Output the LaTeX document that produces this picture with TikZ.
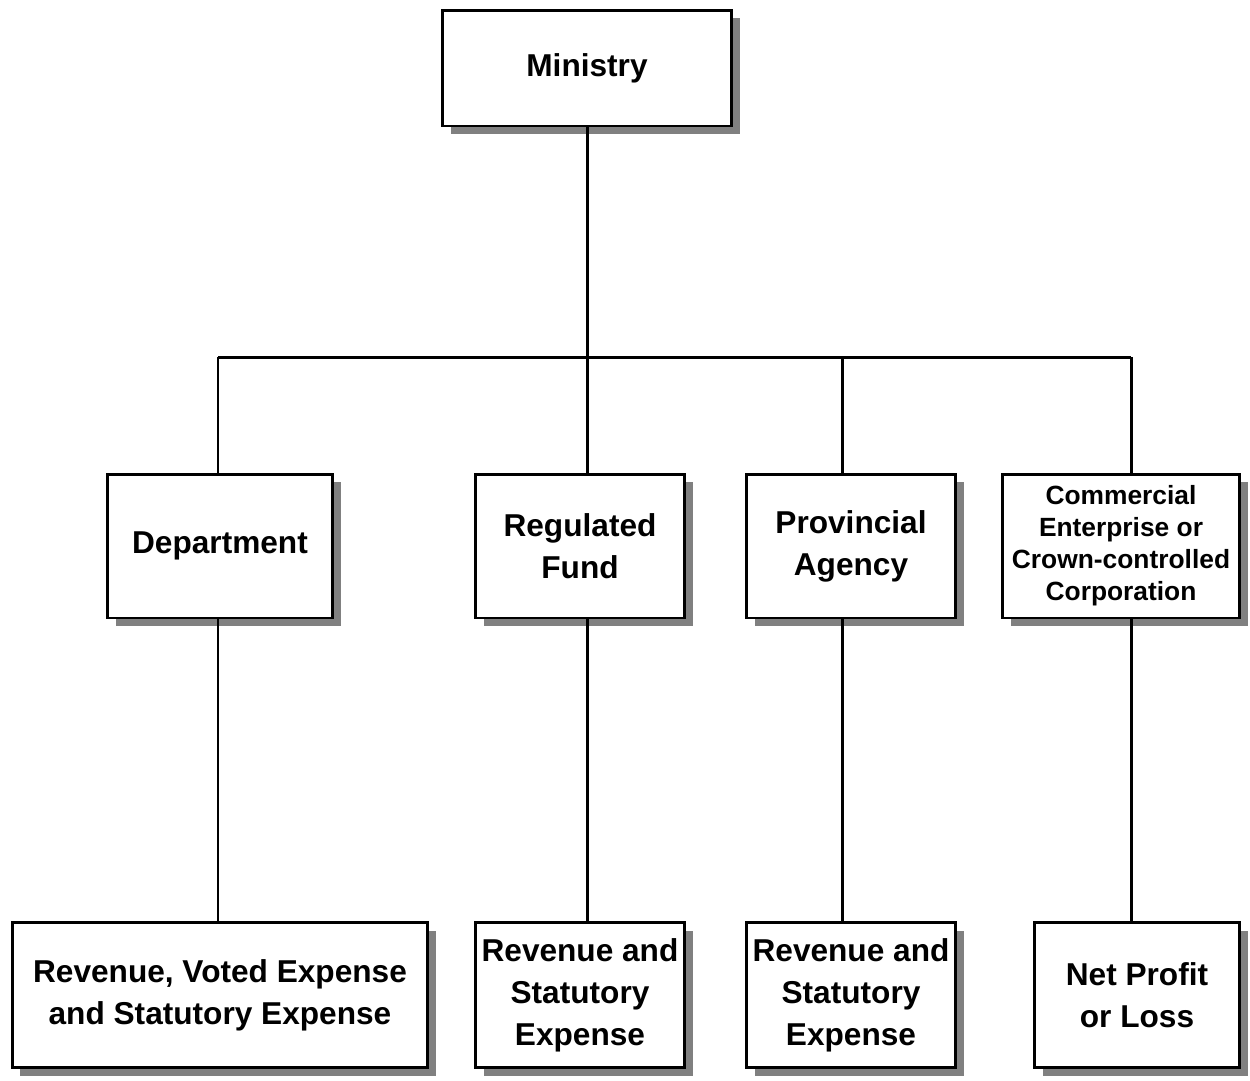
\documentclass[tikz,border=0pt]{standalone}
\usepackage{fontspec}
\setmainfont{Liberation Sans}
\usepackage{tikz}
\usetikzlibrary{positioning, shadows}

\begin{document}
\begin{tikzpicture}[
        x=0.02cm, y=-0.02cm,
        font=\bfseries\fontsize{18}{24}\selectfont,
        box/.style={rectangle, draw=black, line width=1.7pt, fill=white, align=center,
            inner sep=2pt,
            drop shadow={shadow xshift=4.6pt, shadow yshift=-4.6pt, fill=black!50, opacity=1}},
        conn/.style={line width=1.7pt, black}
    ]
    \useasboundingbox (0,0) rectangle (1250,1080);

    \node[box, minimum width=5.78cm, minimum height=2.32cm] (ministry) at (587,68) {Ministry};

    \node[box, minimum width=4.5cm,  minimum height=2.88cm] (dept) at (220,546) {Department};
    \node[box, minimum width=4.18cm, minimum height=2.88cm] (fund) at (580,546) {Regulated\\Fund};
    \node[box, minimum width=4.18cm, minimum height=2.88cm] (agency) at (851,546) {Provincial\\Agency};
    \node[box, minimum width=4.74cm, minimum height=2.88cm,
        font=\bfseries\fontsize{15}{18.2}\selectfont] (corp) at (1121,546)
        {Commercial\\Enterprise or\\Crown-controlled\\Corporation};

    \node[box, minimum width=8.32cm, minimum height=2.9cm] (deptres) at (220,995) {Revenue, Voted Expense\\and Statutory Expense};
    \node[box, minimum width=4.18cm, minimum height=2.9cm] (fundres) at (580,995) {Revenue and\\Statutory\\Expense};
    \node[box, minimum width=4.18cm, minimum height=2.9cm] (agencyres) at (851,995) {Revenue and\\Statutory\\Expense};
    \node[box, minimum width=4.1cm,  minimum height=2.9cm] (corpres) at (1137,995) {Net Profit\\or Loss};

    % bus taps
    \coordinate (j1) at (218,357);
    \coordinate (j2) at (587,357);
    \coordinate (j3) at (842,357);
    \coordinate (j4) at (1131,357);

    \draw[conn] (ministry.south) -- (j2);
    \draw[conn] (j1) -- (j4);
    \draw[conn] (j1) -- (j1 |- dept.north);
    \draw[conn] (j2) -- (j2 |- fund.north);
    \draw[conn] (j3) -- (j3 |- agency.north);
    \draw[conn] (j4) -- (j4 |- corp.north);

    \draw[conn] (j1 |- dept.south) -- (j1 |- deptres.north);
    \draw[conn] (j2 |- fund.south) -- (j2 |- fundres.north);
    \draw[conn] (j3 |- agency.south) -- (j3 |- agencyres.north);
    \draw[conn] (j4 |- corp.south) -- (j4 |- corpres.north);
\end{tikzpicture}
\end{document}
